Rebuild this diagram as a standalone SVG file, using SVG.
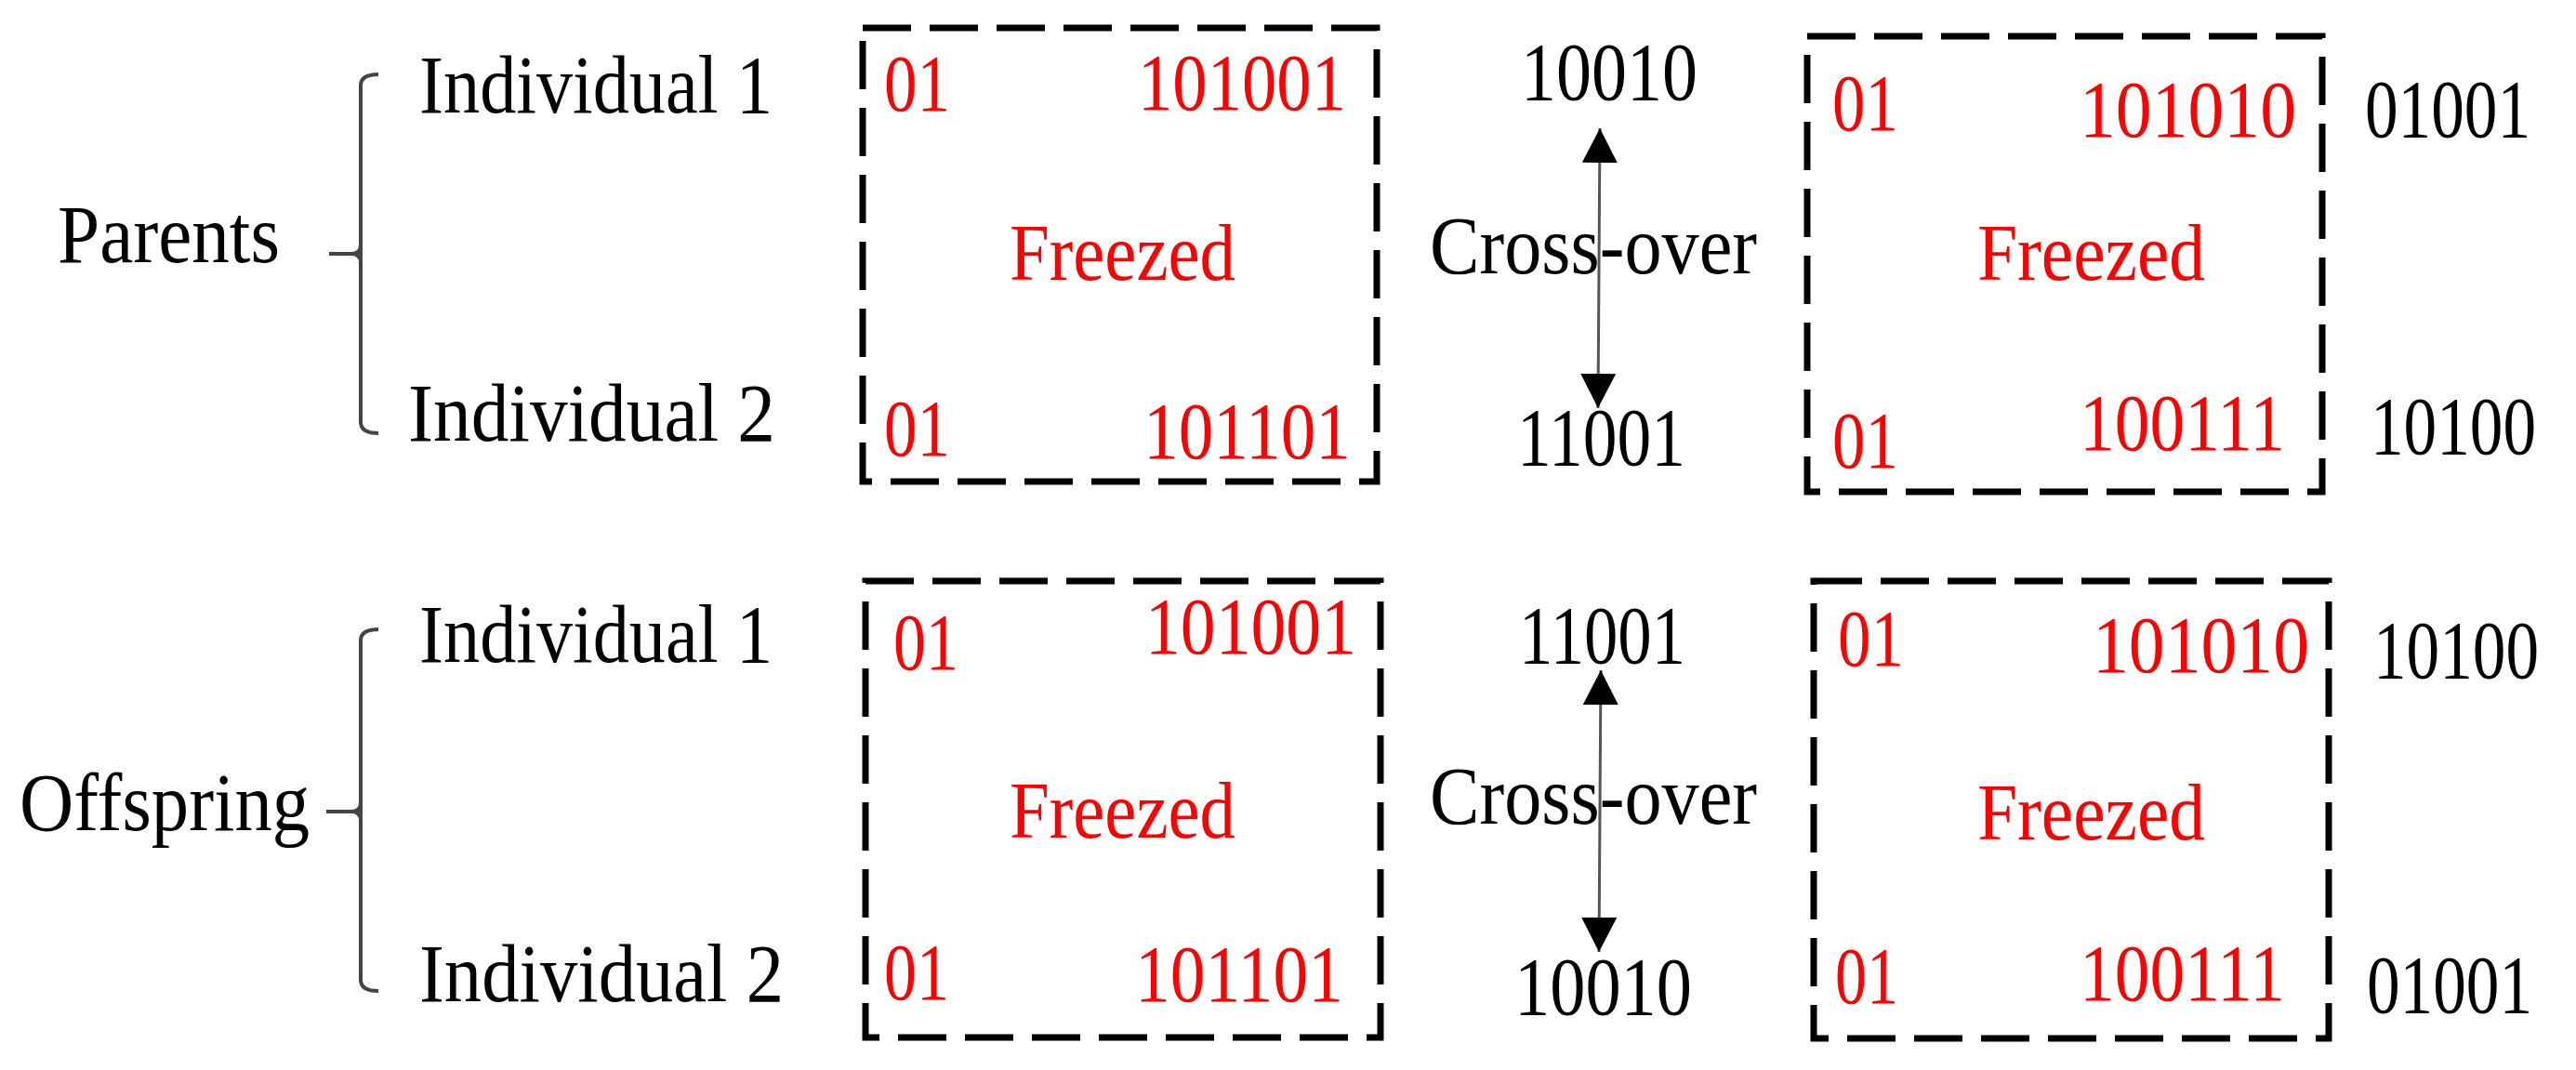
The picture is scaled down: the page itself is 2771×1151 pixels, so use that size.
<svg xmlns="http://www.w3.org/2000/svg" width="2771" height="1151" viewBox="0 0 2771 1151">
<style>
.t{font-family:"Liberation Serif","Times New Roman",serif;font-size:88px;fill:#000}
.r{font-family:"Liberation Serif","Times New Roman",serif;font-size:86px;fill:#ff0000}
.box{fill:none;stroke:#000;stroke-width:7;stroke-dasharray:52 20}
.br{fill:none;stroke:#444;stroke-width:4}
.ar{stroke:#555;stroke-width:3;fill:none}
</style>
<defs>
<marker id="ah" markerUnits="userSpaceOnUse" markerWidth="40" markerHeight="40" refX="37" refY="19" orient="auto-start-reverse">
<path d="M0,0 L37,19 L0,38 Z" fill="#000"/>
</marker>
</defs>
<rect width="2771" height="1151" fill="#fff"/>

<g id="parents">
<text class="t" x="62" y="282" textLength="239" lengthAdjust="spacingAndGlyphs">Parents</text>
<path class="br" d="M407,80 Q388,80 388,92 L388,454 Q388,466 407,466"/>
<path class="br" d="M354,273 L378,273 Q388,273 388,263 M378,273 Q388,273 388,283"/>
<text class="t" x="451" y="121" textLength="380" lengthAdjust="spacingAndGlyphs">Individual 1</text>
<text class="t" x="439" y="474" textLength="395" lengthAdjust="spacingAndGlyphs">Individual 2</text>
</g>

<g id="box1">
<rect class="box" x="928" y="30" width="553" height="488"/>
<text class="r" x="951" y="119" textLength="71" lengthAdjust="spacingAndGlyphs">01</text>
<text class="r" x="1224" y="118" textLength="224" lengthAdjust="spacingAndGlyphs">101001</text>
<text class="r" x="1086" y="301" textLength="243" lengthAdjust="spacingAndGlyphs">Freezed</text>
<text class="r" x="951" y="490" textLength="71" lengthAdjust="spacingAndGlyphs">01</text>
<text class="r" x="1230" y="493" textLength="223" lengthAdjust="spacingAndGlyphs">101101</text>
</g>

<g id="cross1">
<text class="t" x="1636" y="107" textLength="190" lengthAdjust="spacingAndGlyphs">10010</text>
<text class="t" x="1538" y="294" textLength="352" lengthAdjust="spacingAndGlyphs">Cross-over</text>
<text class="t" x="1632" y="500" textLength="181" lengthAdjust="spacingAndGlyphs">11001</text>
</g>

<g id="box2">
<rect class="box" x="1944" y="39" width="554" height="490"/>
<text class="r" x="1971" y="140" textLength="71" lengthAdjust="spacingAndGlyphs">01</text>
<text class="r" x="2237" y="147" textLength="233" lengthAdjust="spacingAndGlyphs">101010</text>
<text class="r" x="2127" y="301" textLength="245" lengthAdjust="spacingAndGlyphs">Freezed</text>
<text class="r" x="1971" y="503" textLength="71" lengthAdjust="spacingAndGlyphs">01</text>
<text class="r" x="2237" y="484" textLength="221" lengthAdjust="spacingAndGlyphs">100111</text>
</g>

<g id="tail1">
<text class="t" x="2544" y="147" textLength="178" lengthAdjust="spacingAndGlyphs">01001</text>
<text class="t" x="2550" y="488" textLength="178" lengthAdjust="spacingAndGlyphs">10100</text>
</g>

<g id="offspring">
<text class="t" x="21" y="893" textLength="312" lengthAdjust="spacingAndGlyphs">Offspring</text>
<path class="br" d="M407,677 Q388,677 388,689 L388,1054 Q388,1066 407,1066"/>
<path class="br" d="M351,873 L378,873 Q388,873 388,863 M378,873 Q388,873 388,883"/>
<text class="t" x="451" y="712" textLength="380" lengthAdjust="spacingAndGlyphs">Individual 1</text>
<text class="t" x="451" y="1077" textLength="392" lengthAdjust="spacingAndGlyphs">Individual 2</text>
</g>

<g id="box3">
<rect class="box" x="931" y="625" width="554" height="491"/>
<text class="r" x="961" y="720" textLength="70" lengthAdjust="spacingAndGlyphs">01</text>
<text class="r" x="1232" y="703" textLength="227" lengthAdjust="spacingAndGlyphs">101001</text>
<text class="r" x="1086" y="901" textLength="243" lengthAdjust="spacingAndGlyphs">Freezed</text>
<text class="r" x="951" y="1075" textLength="70" lengthAdjust="spacingAndGlyphs">01</text>
<text class="r" x="1221" y="1077" textLength="224" lengthAdjust="spacingAndGlyphs">101101</text>
</g>

<g id="cross2">
<text class="t" x="1634" y="713" textLength="179" lengthAdjust="spacingAndGlyphs">11001</text>
<text class="t" x="1538" y="886" textLength="352" lengthAdjust="spacingAndGlyphs">Cross-over</text>
<text class="t" x="1629" y="1091" textLength="191" lengthAdjust="spacingAndGlyphs">10010</text>
</g>

<g id="box4">
<rect class="box" x="1951" y="625" width="554" height="492"/>
<text class="r" x="1977" y="716" textLength="71" lengthAdjust="spacingAndGlyphs">01</text>
<text class="r" x="2251" y="723" textLength="233" lengthAdjust="spacingAndGlyphs">101010</text>
<text class="r" x="2127" y="903" textLength="245" lengthAdjust="spacingAndGlyphs">Freezed</text>
<text class="r" x="1974" y="1079" textLength="68" lengthAdjust="spacingAndGlyphs">01</text>
<text class="r" x="2237" y="1076" textLength="221" lengthAdjust="spacingAndGlyphs">100111</text>
</g>

<g id="tail2">
<text class="t" x="2553" y="729" textLength="178" lengthAdjust="spacingAndGlyphs">10100</text>
<text class="t" x="2546" y="1089" textLength="178" lengthAdjust="spacingAndGlyphs">01001</text>
</g>

<g id="connectors">
<line class="ar" x1="1721" y1="138" x2="1719" y2="439" marker-start="url(#ah)" marker-end="url(#ah)"/>
<line class="ar" x1="1722" y1="721" x2="1720" y2="1024" marker-start="url(#ah)" marker-end="url(#ah)"/>
</g>
</svg>
